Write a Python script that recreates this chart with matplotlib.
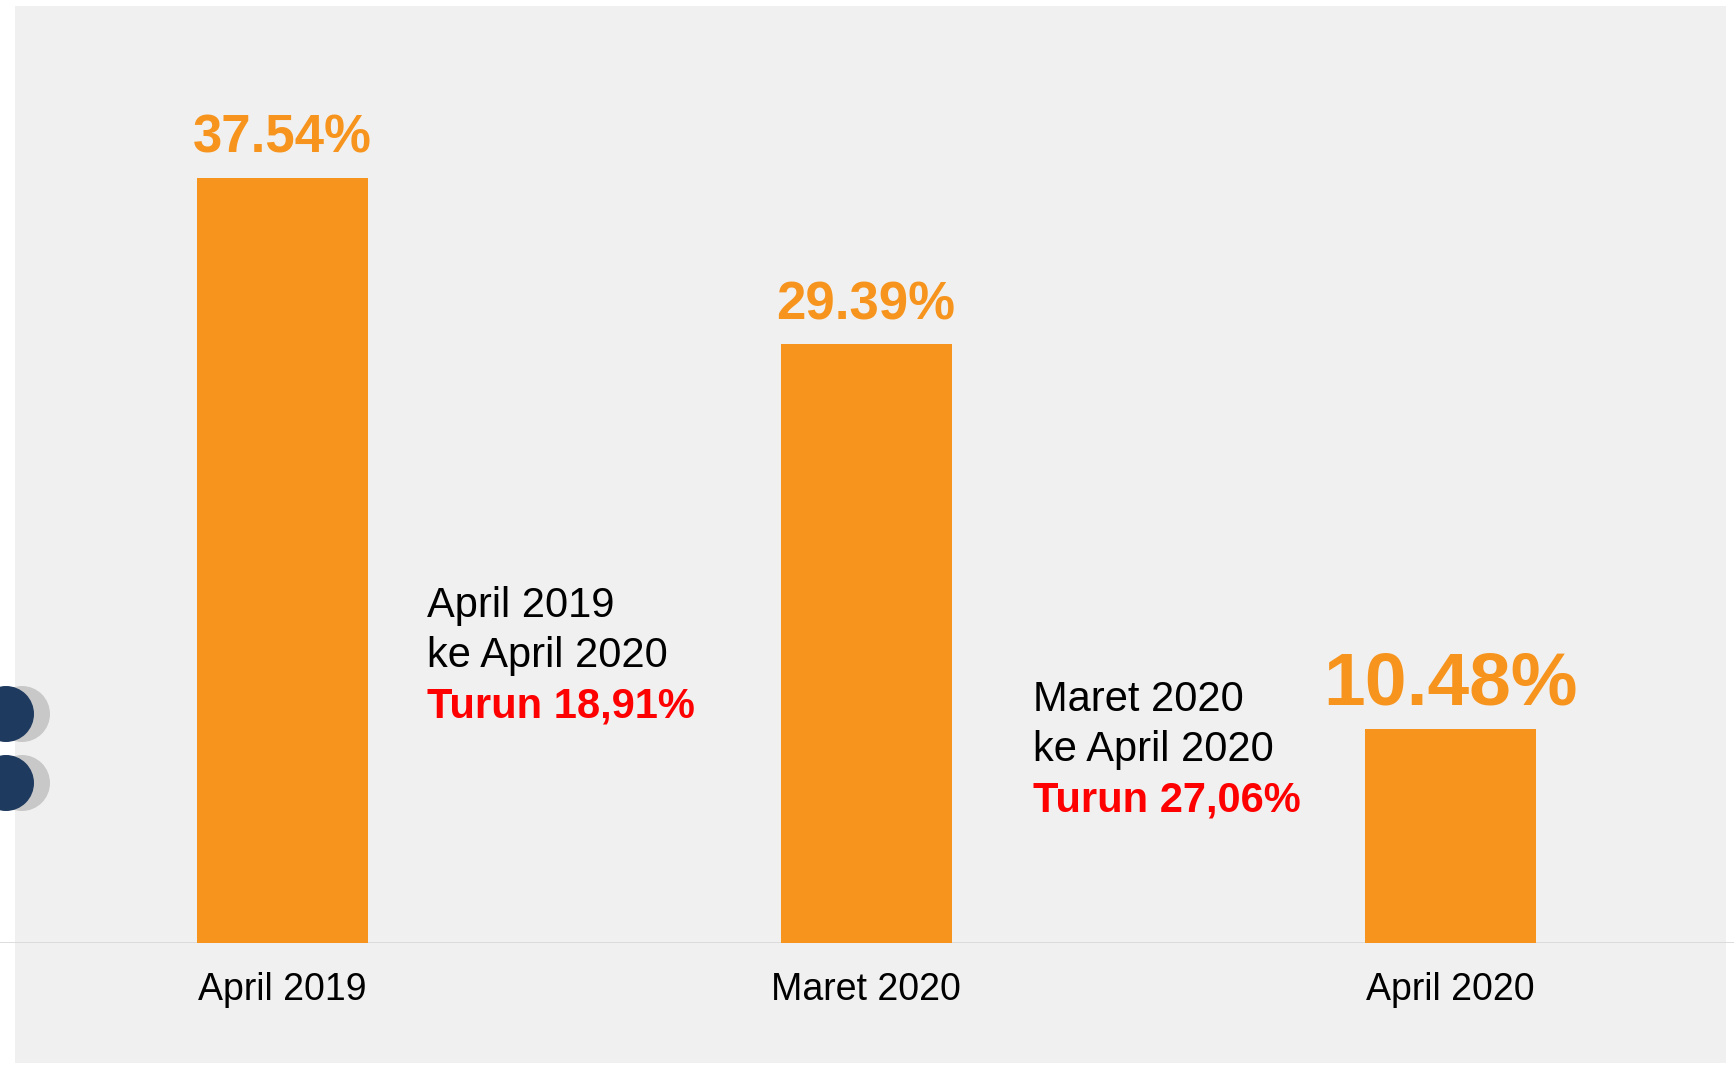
import matplotlib
matplotlib.use("Agg")
import matplotlib.pyplot as plt
from matplotlib.patches import Rectangle, Ellipse

plt.rcParams['font.family'] = ['Liberation Sans', 'DejaVu Sans']

# data
periods = ["April 2019", "Maret 2020", "April 2020"]
values = [37.54, 29.39, 10.48]
value_labels = ["37.54%", "29.39%", "10.48%"]
label_sizes = [38, 38, 54]
notes = [
    ("April 2019", "ke April 2020", "Turun 18,91%"),
    ("Maret 2020", "ke April 2020", "Turun 27,06%"),
]

ORANGE = "#F7941D"
RED = "#FF0000"
PANEL = "#F0F0F0"

W, H = 1734, 1065
fig = plt.figure(figsize=(W / 100, H / 100), dpi=100, facecolor="white")

# background layer in pixel coordinates
bg = fig.add_axes([0, 0, 1, 1], zorder=0)
bg.set_xlim(0, W)
bg.set_ylim(H, 0)
bg.axis("off")
bg.add_patch(Rectangle((15, 6), 1711, 1057, color=PANEL, lw=0))
for cy in (714, 783):
    bg.add_patch(Ellipse((22, cy), 56, 56, color="#C8C8C8", lw=0))
    bg.add_patch(Ellipse((6, cy), 56, 56, color="#1F3A5F", lw=0))

# bar chart axes
base = 943
ax = fig.add_axes([0, (H - base) / H, 1, base / H], zorder=1)
ax.patch.set_visible(False)
step = 584
ax.set_xlim(-282 / step, (W - 282) / step)
ax.set_ylim(0, base / 20.38)

x = list(range(len(periods)))
ax.bar(x, values, width=171 / step, color=ORANGE, zorder=2)
ax.axhline(0, color="#D9D9D9", lw=2, zorder=1)

for xi, v, lab, fs in zip(x, values, value_labels, label_sizes):
    ax.annotate(lab, (xi, v), xytext=(0, 18), textcoords="offset points",
                ha="center", va="baseline", fontsize=fs, fontweight="bold",
                color=ORANGE)

ax.set_xticks(x)
ax.set_xticklabels(periods, fontsize=27)
ax.tick_params(axis="x", length=0, pad=21)
ax.set_yticks([])
for s in ax.spines.values():
    s.set_visible(False)

# annotations between bars
for (l1, l2, l3), (tx, ty) in zip(notes, [(427, 617), (1033, 711)]):
    bg.text(tx, ty, l1, fontsize=30, color="black", va="baseline", zorder=3)
    bg.text(tx, ty + 50, l2, fontsize=30, color="black", va="baseline", zorder=3)
    bg.text(tx, ty + 101, l3, fontsize=30, color=RED, fontweight="bold",
            va="baseline", zorder=3)

fig.savefig("out.png", dpi=100, facecolor="white")
